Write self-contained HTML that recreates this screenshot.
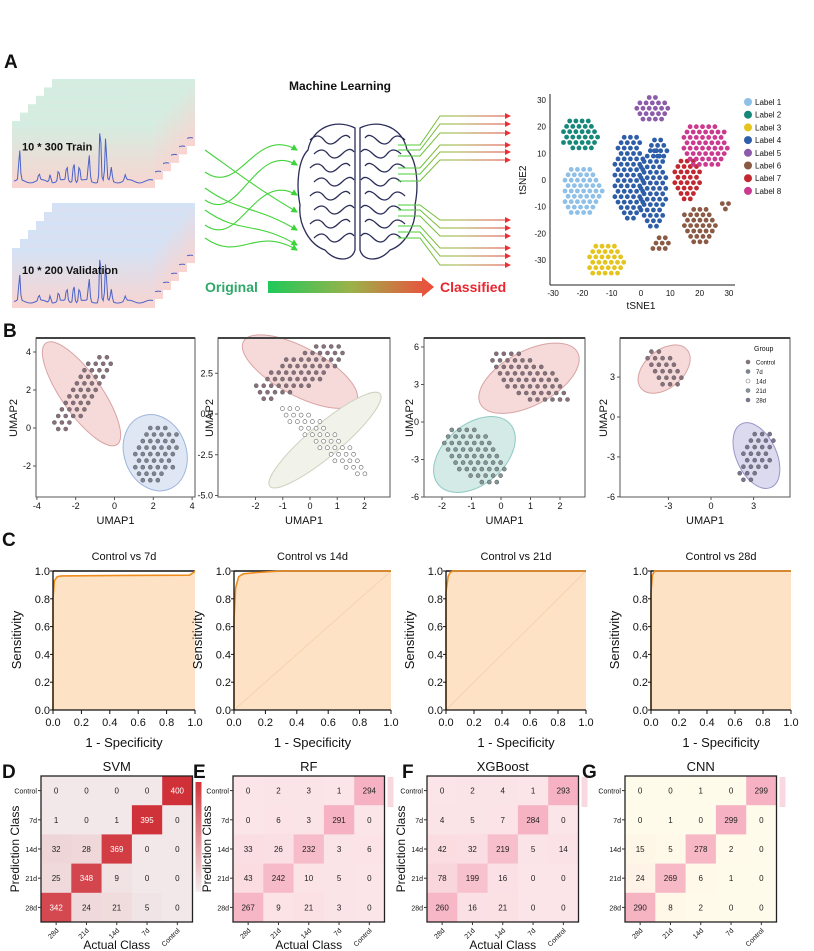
<!DOCTYPE html>
<html><head><meta charset="utf-8">
<style>
html,body{margin:0;padding:0;background:#fff;}
svg{display:block;font-family:"Liberation Sans",sans-serif;}
.n{font-family:"Liberation Sans Narrow","Liberation Sans",sans-serif;}
</style></head>
<body>
<svg id="fig" width="814" height="951" viewBox="0 0 814 951" xmlns="http://www.w3.org/2000/svg">
<defs>
<linearGradient id="cardG" x1="0" y1="0" x2="0" y2="1"><stop offset="0" stop-color="#d3eee2"/><stop offset="1" stop-color="#f9d4d0"/></linearGradient>
<linearGradient id="cardB" x1="0" y1="0" x2="0" y2="1"><stop offset="0" stop-color="#d3e2f6"/><stop offset="1" stop-color="#f9d4d0"/></linearGradient>
<linearGradient id="arrG" x1="0" y1="0" x2="1" y2="0"><stop offset="0" stop-color="#1ec95a"/><stop offset="0.5" stop-color="#9bb24a"/><stop offset="1" stop-color="#f04a3c"/></linearGradient>
<linearGradient id="outG" gradientUnits="userSpaceOnUse" x1="400" y1="0" x2="512" y2="0"><stop offset="0" stop-color="#3fd33a"/><stop offset="0.5" stop-color="#9fae3a"/><stop offset="1" stop-color="#e8323a"/></linearGradient>
<linearGradient id="cbSVM" x1="0" y1="0" x2="0" y2="1"><stop offset="0" stop-color="#d0343a"/><stop offset="1" stop-color="#f4eef0"/></linearGradient>
<marker id="mg" markerWidth="6" markerHeight="6" refX="5" refY="3" orient="auto"><path d="M0,0 L6,3 L0,6 z" fill="#3bd43a"/></marker>
<marker id="mr" markerWidth="6" markerHeight="6" refX="5" refY="3" orient="auto"><path d="M0,0 L6,3 L0,6 z" fill="#e8323a"/></marker>
</defs>
<g id="panelA"></g>
<g id="panelB"></g>
<g id="panelC"></g>
<g id="panelD"></g>
</svg>
<script>
// ---------- DATA ----------
const specPeaks=[[0.04,0.55],[0.18,0.12],[0.26,0.15],[0.32,0.2],[0.38,0.28],[0.43,0.4],[0.47,0.3],[0.54,0.48],[0.62,1.05],[0.66,0.78],[0.7,0.25],[0.8,0.1]];
const tsneLabels=["Label 1","Label 2","Label 3","Label 4","Label 5","Label 6","Label 7","Label 8"];
const tsneColors=["#8ec0e8","#16887a","#e5c41e","#2e5ea8","#8c5ba9","#8b5a44","#c1282f","#cc3a8f"];
const tsneClusterLabel=[0,1,2,3,3,3,4,5,5,5,6,7];
const tsneCx=[-20,-21,-12,-4,4,6,3.8,20,7,28.7,16,21.8];
const tsneCy=[-4,17,-30,1,-3,12,26,-17,-24,-9,0.7,13];
const tsneRx=[7,6.5,6.6,5.5,5,3,6.3,6,4,2,5,8];
const tsneRy=[10,6.5,6.7,17,16,5,5,8,3,2,8.4,9];
const tsneTicks=[-30,-20,-10,0,10,20,30];
const umapXTicks=[[-4,-2,0,2,4],[-2,-1,0,1,2],[-2,-1,0,1,2],[-3,0,3]];
const umapYTicks=[[-2,0,2,4],[-5.0,-2.5,0.0,2.5],[-6,-3,0,3,6],[-6,-3,0,3]];
const umapXTickLabels=[["-4","-2","0","2","4"],["-2","-1","0","1","2"],["-2","-1","0","1","2"],["-3","0","3"]];
const umapYTickLabels=[["-2","0","2","4"],["-5.0","-2.5","0.0","2.5"],["-6","-3","0","3","6"],["-6","-3","0","3"]];
const umapGroupA=[0,0,0,0];
const umapGroupB=[1,2,3,4];
const umapCtrlX=[-1.7,-0.37,0.95,-3.3], umapCtrlY=[1.8,2.6,3.5,3.6];
const umapTrtX=[2.1,0.55,-0.9,3.2], umapTrtY=[-1.3,-1.6,-2.6,-2.9];
const groupNames=["Control","7d","14d","21d","28d"];
const rocTitles=["Control vs 7d","Control vs 14d","Control vs 21d","Control vs 28d"];
const rocFpr=[[0,0,0.01,0.03,0.06,0.5,0.96,0.99,1],[0,0,0.01,0.03,0.06,0.15,0.3,1],[0,0,0.015,0.03,0.05,1],[0,0,0.01,0.025,1]];
const rocTpr=[[0,0.8,0.93,0.96,0.965,0.968,0.97,0.99,1],[0,0.65,0.88,0.96,0.98,0.99,1,1],[0,0.85,0.96,0.99,1,1],[0,0.85,0.97,1,1]];
const rocTicks=[0,0.2,0.4,0.6,0.8,1.0];
const cmTitles=["SVM","RF","XGBoost","CNN"];
const cmLetters=["D","E","F","G"];
const rowLabels=["Control","7d","14d","21d","28d"];
const colLabels=["28d","21d","14d","7d","Control"];
const cmSVM=[[0,0,0,0,400],[1,0,1,395,0],[32,28,369,0,0],[25,348,9,0,0],[342,24,21,5,0]];
const cmRF=[[0,2,3,1,294],[0,6,3,291,0],[33,26,232,3,6],[43,242,10,5,0],[267,9,21,3,0]];
const cmXGB=[[0,2,4,1,293],[4,5,7,284,0],[42,32,219,5,14],[78,199,16,0,0],[260,16,21,0,0]];
const cmCNN=[[0,0,1,0,299],[0,1,0,299,0],[15,5,278,2,0],[24,269,6,1,0],[290,8,2,0,0]];

// ---------- HELPERS ----------
const NS="http://www.w3.org/2000/svg";
function el(parent,tag,attrs,text){const e=document.createElementNS(NS,tag);for(const k in attrs)e.setAttribute(k,attrs[k]);if(text!==undefined)e.textContent=text;parent.appendChild(e);return e;}
function txt(parent,x,y,s,size,opts){opts=opts||{};const a={x:x,y:y,'font-size':size,fill:opts.fill||'#111','text-anchor':opts.anchor||'start'};if(opts.weight)a['font-weight']=opts.weight;if(opts.rot!==undefined)a.transform='rotate('+opts.rot+' '+x+' '+y+')';if(opts.cls)a['class']=opts.cls;const t=el(parent,'text',a,s);return t;}
function ellipsePoints(cx,cy,rx,ry,rot,sp){const pts=[];const c=Math.cos(rot*Math.PI/180),s=Math.sin(rot*Math.PI/180);const R=Math.max(rx,ry);let row=0;for(let v=-R;v<=R;v+=sp*0.87,row++){for(let u=-R+(row%2)*sp/2;u<=R;u+=sp){const lx=u*c+v*s,ly=-u*s+v*c;if((lx*lx)/(rx*rx)+(ly*ly)/(ry*ry)<=1)pts.push([cx+u,cy+v]);}}return pts;}

// ---------- PANEL A ----------
const A=document.getElementById('panelA');
txt(A,4,68,'A',19,{weight:'bold',name:'panel-letter-a'});
function spectrum(g,x,y,w,h){let d='';const N=120;for(let i=0;i<=N;i++){const t=i/N;let v=0.05+0.03*Math.sin(t*40);for(const p of specPeaks){v+=p[1]*Math.exp(-Math.pow((t-p[0])/0.008,2));}const px=x+t*w,py=y+h-v*h;d+=(i?'L':'M')+px.toFixed(1)+','+py.toFixed(1);}const p=el(g,'path',{d:d,fill:'none',stroke:'#4a63c9','stroke-width':1});}
function stack(fx,fy,w,h,dy,grad,label,name){const g=el(A,'g',{});for(let i=5;i>=0;i--){const x=fx+i*8,y=fy-i*dy;const r=el(g,'rect',{x:x,y:y,width:w,height:h,fill:'url(#'+grad+')'});spectrum(g,x+2,y+8,w-4,h-12);}txt(g,fx+10,fy+h*0.5-4,label,11,{weight:'bold',cls:'n',name:'stack-label'});}
stack(12,121,143,67,8.4,'cardG','10 * 300  Train','train-stack');
stack(12,248,143,60,9,'cardB','10 * 200  Validation','validation-stack');
txt(A,340,90,'Machine Learning',12,{weight:'bold',anchor:'middle',cls:'n',name:'ml-title'});
const inY=[[150,212],[172,150],[188,230],[200,165],[210,245],[225,195],[238,250]];
inY.forEach(p=>{const d='M205,'+p[0]+' C240,'+(p[0]+25)+' 255,'+(p[1]-25)+' 297,'+p[1];const a=el(A,'path',{d:d,fill:'none',stroke:'#44d33c','stroke-width':1.1,'marker-end':'url(#mg)'});});
const br=el(A,'g',{fill:'none',stroke:'#2a2d58','stroke-width':1.3});
el(br,'path',{d:'M355,128 C335,118 312,128 308,150 C298,160 296,185 300,205 C298,225 310,245 325,250 C335,262 352,262 355,250 Z'});
el(br,'path',{d:'M360,128 C380,118 403,128 407,150 C417,160 419,185 415,205 C417,225 405,245 390,250 C380,262 363,262 360,250 Z'});
for(let i=0;i<8;i++){const y=140+i*14;el(br,'path',{d:'M'+(310+(i%2)*4)+','+y+' q8,-8 14,0 t14,0 t12,-2'});el(br,'path',{d:'M'+(405-(i%2)*4)+','+y+' q-8,-8 -14,0 t-14,0 t-12,-2'});}
const outY=[[145,116],[150,124],[156,133],[168,145],[174,152],[181,160],[205,220],[210,228],[216,236],[226,248],[232,256],[238,265]];
outY.forEach(p=>{const d='M398,'+p[0]+' L420,'+p[0]+' L440,'+p[1]+' L510,'+p[1];const a=el(A,'path',{d:d,fill:'none',stroke:'url(#outG)','stroke-width':1,'marker-end':'url(#mr)'});});
txt(A,205,292,'Original',14,{weight:'bold',fill:'#2fa86a',cls:'n',name:'original-label'});
const ga=el(A,'path',{d:'M268,281 L422,281 L422,277 L434,287 L422,297 L422,293 L268,293 Z',fill:'url(#arrG)'});
txt(A,440,292,'Classified',14,{weight:'bold',fill:'#e8262f',cls:'n',name:'classified-label'});
const tx=v=>641+v*2.93, ty=v=>180-v*2.67;
const T=el(A,'g',{});
tsneCx.forEach((cx,i)=>{const col=tsneColors[tsneClusterLabel[i]];ellipsePoints(tx(cx),ty(tsneCy[i]),tsneRx[i]*2.93,tsneRy[i]*2.67,0,6.2).forEach(p=>{const c=el(T,'circle',{cx:p[0].toFixed(1),cy:p[1].toFixed(1),r:2.4,fill:col});});});
el(T,'line',{x1:550,y1:94,x2:550,y2:285,stroke:'#222','stroke-width':1});
el(T,'line',{x1:550,y1:285,x2:735,y2:285,stroke:'#222','stroke-width':1});
tsneTicks.forEach(v=>{txt(T,546,ty(v)+3,String(v),8,{anchor:'end',cls:'n',name:'tsne-y-tick'});txt(T,tx(v),296,String(v),8,{anchor:'middle',cls:'n',name:'tsne-x-tick'});});
txt(T,641,309,'tSNE1',10,{anchor:'middle',cls:'n',name:'tsne-x-title'});
txt(T,526,180,'tSNE2',10,{anchor:'middle',rot:-90,cls:'n',name:'tsne-y-title'});
tsneLabels.forEach((l,i)=>{const y=102+i*12.7;const c=el(T,'circle',{cx:748,cy:y,r:4,fill:tsneColors[i]});txt(T,755,y+3,l,8,{cls:'n',name:'legend-entry'});});

// ---------- PANEL B ----------
const B=document.getElementById('panelB');
txt(B,3,337,'B',19,{weight:'bold',name:'panel-letter-b'});
const uBox=[[36,195],[218,390],[424,585],[620,790]];
const uXm=[[114.5,19.4],[310,27.25],[501,29.5],[711,14.2]];
const uYm=[[428,19],[414,16.3],[422,12.5],[417,13.3]];
const ellA=[[62,20,55],[64,24,28],[55,27,-28],[30,19,-40]];
const ellB=[[39,31,70],[72,16,-40],[47,30,-40],[35,20,65]];
const gFill=['#f6d9d9','#dfe7f4','#f1f2e9','#d4eae7','#dcdaef'];
const gStroke=['#d9a3a3','#9db6dc','#ccd3be','#8ec8c1','#9b95c8'];
const gDot=['#8b6f7d','#7d8595','#ffffff','#7f999a','#7a7594'];
uBox.forEach((bx,k)=>{const g=el(B,'g',{});
 const X=v=>uXm[k][0]+v*uXm[k][1], Y=v=>uYm[k][0]-v*uYm[k][1];
 const groups=[[umapGroupA[k],umapCtrlX[k],umapCtrlY[k],ellA[k]],[umapGroupB[k],umapTrtX[k],umapTrtY[k],ellB[k]]];
 groups.forEach(gr=>{const cx=X(gr[1]),cy=Y(gr[2]),e=gr[3];const E=el(g,'ellipse',{cx:cx,cy:cy,rx:e[0],ry:e[1],transform:'rotate('+e[2]+' '+cx+' '+cy+')',fill:gFill[gr[0]],stroke:gStroke[gr[0]],'stroke-width':1});
  ellipsePoints(cx,cy,e[0]*0.8,e[1]*0.72,-e[2],7.5).forEach(p=>{const c=el(g,'circle',{cx:p[0].toFixed(1),cy:p[1].toFixed(1),r:2,fill:gDot[gr[0]],stroke:'#666','stroke-width':0.6});});});
 el(g,'rect',{x:bx[0],y:338,width:bx[1]-bx[0],height:159,fill:'none',stroke:'#555','stroke-width':1});
 el(g,'line',{x1:bx[0],y1:338,x2:bx[1],y2:338,stroke:'#444','stroke-width':2});
 umapXTicks[k].forEach((v,i)=>{el(g,'line',{x1:X(v),y1:497,x2:X(v),y2:500,stroke:'#555'});txt(g,X(v),509,umapXTickLabels[k][i],9,{anchor:'middle',cls:'n',name:'umap-x-tick'});});
 umapYTicks[k].forEach((v,i)=>{el(g,'line',{x1:bx[0]-3,y1:Y(v),x2:bx[0],y2:Y(v),stroke:'#555'});txt(g,bx[0]-5,Y(v)+3,umapYTickLabels[k][i],9,{anchor:'end',cls:'n',name:'umap-y-tick'});});
 txt(g,(bx[0]+bx[1])/2,524,'UMAP1',11,{anchor:'middle',cls:'n',name:'umap-x-title'});
 txt(g,[17,213,413,607][k],418,'UMAP2',11,{anchor:'middle',rot:-90,cls:'n',name:'umap-y-title'});
});
txt(B,754,351,'Group',7,{cls:'n',name:'group-legend-title'});
groupNames.forEach((n,i)=>{const y=362+i*9.5;const c=el(B,'circle',{cx:748,cy:y,r:2,fill:gDot[i],stroke:'#777','stroke-width':0.6});txt(B,756,y+2.5,n,6,{cls:'n',name:'group-legend-entry'});});

// ---------- PANEL C ----------
const C=document.getElementById('panelC');
txt(C,2,546,'C',19,{weight:'bold',name:'panel-letter-c'});
const rocX=[[53,195],[234,391],[446,586],[651,791]];
rocTitles.forEach((t,k)=>{const g=el(C,'g',{});
 const x0=rocX[k][0],x1=rocX[k][1];const X=v=>x0+v*(x1-x0), Y=v=>710-v*139;
 let d='M'+X(0)+','+Y(0);rocFpr[k].forEach((f,i)=>{d+=' L'+X(f).toFixed(1)+','+Y(rocTpr[k][i]).toFixed(1);});
 const fa=el(g,'path',{d:d+' L'+X(1)+','+Y(0)+' Z',fill:'#fde2c6'});
 if(k==1||k==2){el(g,'line',{x1:X(0),y1:Y(0),x2:X(1),y2:Y(1),stroke:'#f3c9a0','stroke-width':0.6});}
 el(g,'line',{x1:X(0),y1:Y(1),x2:X(1),y2:Y(1),stroke:'#111','stroke-width':1.5});
 const ln=el(g,'path',{d:d,fill:'none',stroke:'#ef8c1c','stroke-width':1.6});
 el(g,'line',{x1:x0,y1:Y(0),x2:x0,y2:Y(1),stroke:'#111','stroke-width':1.3});
 el(g,'line',{x1:x0,y1:Y(0),x2:x1,y2:Y(0),stroke:'#111','stroke-width':1.3});
 rocTicks.forEach(v=>{el(g,'line',{x1:x0-3,y1:Y(v),x2:x0,y2:Y(v),stroke:'#111'});txt(g,x0-3,Y(v)+4,v.toFixed(1),11,{anchor:'end',cls:'n',name:'roc-y-tick'});el(g,'line',{x1:X(v),y1:710,x2:X(v),y2:714,stroke:'#111'});txt(g,X(v),726,v.toFixed(1),11,{anchor:'middle',name:'roc-x-tick'});});
 txt(g,(x0+x1)/2,560,t,11,{anchor:'middle',cls:'n',name:'roc-title'});
 txt(g,(x0+x1)/2,747,'1 - Specificity',13,{anchor:'middle',name:'roc-x-title'});
 txt(g,x0-32,640,'Sensitivity',13,{anchor:'middle',rot:-90,name:'roc-y-title'});
});

// ---------- PANELS D-G ----------
const D=document.getElementById('panelD');
const cmData=[cmSVM,cmRF,cmXGB,cmCNN];
const cmX=[41,233,427,625];
const cmLetterX=[2,193,402,582];
const cmLow=[[242,232,234],[251,229,232],[251,229,232],[255,251,234]];
const cmHigh=[[208,48,56],[246,178,194],[246,178,194],[246,178,194]];
cmData.forEach((m,k)=>{const g=el(D,'g',{});
 const x0=cmX[k],y0=776,cw=30.3,ch=29.2;const mx=Math.max(...m.flat());
 m.forEach((row,r)=>row.forEach((v,c)=>{const t=Math.pow(v/mx,0.9);const col='rgb('+cmLow[k].map((l,i)=>Math.round(l+(cmHigh[k][i]-l)*t)).join(',')+')';
  const cell=el(g,'rect',{x:x0+c*cw,y:y0+r*ch,width:cw+0.3,height:ch+0.3,fill:col});
  txt(g,x0+c*cw+cw/2,y0+r*ch+ch/2+3,String(v),8,{anchor:'middle',fill:(k==0&&v>300)?'#fff':'#222',cls:'n',name:'cell-value'});}));
 el(g,'rect',{x:x0,y:y0,width:cw*5,height:ch*5,fill:'none',stroke:'#222','stroke-width':1.3});
 rowLabels.forEach((l,r)=>{el(g,'line',{x1:x0-3,y1:y0+r*ch+ch/2,x2:x0,y2:y0+r*ch+ch/2,stroke:'#333'});txt(g,x0-4,y0+r*ch+ch/2+3,l,7,{anchor:'end',cls:'n',name:'row-label'});});
 colLabels.forEach((l,c)=>{const x=x0+c*cw+cw/2;el(g,'line',{x1:x,y1:y0+ch*5,x2:x,y2:y0+ch*5+3,stroke:'#333'});txt(g,x+3,y0+ch*5+9,l,7,{anchor:'end',rot:-45,cls:'n',name:'col-label'});});
 txt(g,x0+cw*2.5,771,cmTitles[k],13,{anchor:'middle',name:'cm-title'});
 txt(g,cmLetterX[k],778,cmLetters[k],19,{weight:'bold',name:'panel-letter-'+cmLetters[k].toLowerCase()});
 if(k!=3)txt(g,x0+cw*2.5,949,'Actual Class',12,{anchor:'middle',name:'cm-x-title'});
 if(k!=3)txt(g,x0-22,849,'Prediction Class',12,{anchor:'middle',rot:-90,name:'cm-y-title'});
 const cb=el(g,'rect',{x:x0+cw*5+3,y:k==0?782:777,width:6,height:k==0?110:30,fill:k==0?'url(#cbSVM)':'rgb('+cmHigh[k].join(',')+')',opacity:k==0?1:0.5});
});
</script>
</body></html>
